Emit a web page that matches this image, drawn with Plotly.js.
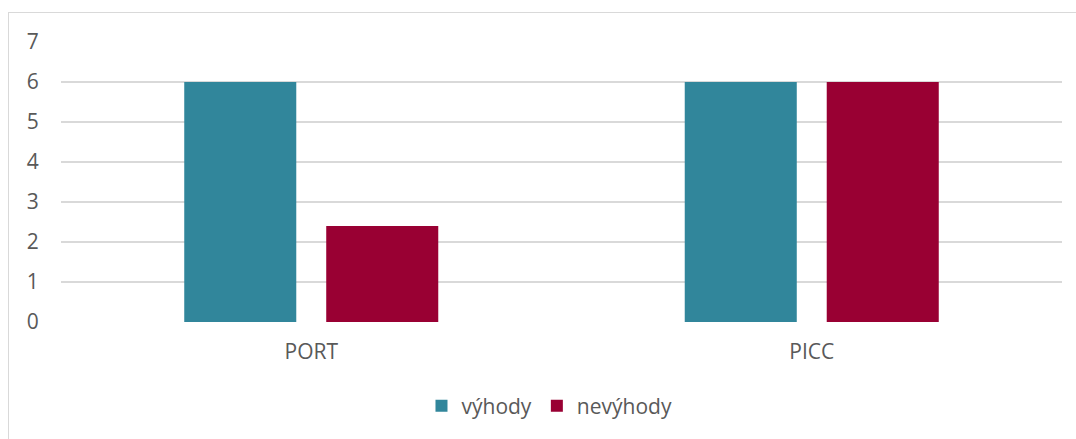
<!DOCTYPE html>
<html>
<head>
<meta charset="utf-8">
<script src="https://cdn.plot.ly/plotly-3.0.1.min.js"></script>
<style>
  html, body { margin: 0; padding: 0; background: #fff; overflow: hidden; }
  #frame { position: absolute; left: 8px; top: 12px; width: 1200px; height: 600px;
           border: 1px solid #d9d9d9; box-sizing: border-box; }
  #chart { position: absolute; left: 0; top: 0; width: 1076px; height: 439px; }
</style>
</head>
<body>
<div id="frame"></div>
<div id="chart"></div>
<script>
// Catheter types compared
const categories = ['PORT', 'PICC'];
// Number of advantages / disadvantages per type
const advantages = [6, 6];
const disadvantages = [2.4, 6];
const yTicks = [0, 1, 2, 3, 4, 5, 6, 7];

const textColor = '#595959';
const font = { family: 'Open Sans, Noto Sans, sans-serif', size: 21, color: textColor };

const traces = [
  { type: 'bar', name: 'výhody', x: categories, y: advantages,
    marker: { color: '#31869b' }, hoverinfo: 'x+y' },
  { type: 'bar', name: 'nevýhody', x: categories, y: disadvantages,
    marker: { color: '#990033' }, hoverinfo: 'x+y' }
];

const layout = {
  width: 1076, height: 439,
  margin: { l: 61, r: 14, t: 42, b: 115 },
  paper_bgcolor: 'rgba(0,0,0,0)', plot_bgcolor: 'rgba(0,0,0,0)',
  font: font,
  barmode: 'group', bargap: 0.4326, bargroupgap: 0.211,
  showlegend: true,
  legend: { orientation: 'h', x: 0.488, xanchor: 'center', y: -0.3, yanchor: 'middle',
            font: font, itemwidth: 30, traceorder: 'normal' },
  xaxis: { type: 'category', showgrid: false, zeroline: false, showline: false,
           ticks: 'outside', ticklen: 11, tickcolor: 'rgba(0,0,0,0)', tickfont: font },
  yaxis: { range: [0, 7], tickvals: yTicks, ticktext: yTicks.map(String),
           showgrid: true, gridcolor: '#d9d9d9', gridwidth: 1.5, zeroline: false, showline: false,
           ticks: 'outside', ticklen: 17, tickcolor: 'rgba(0,0,0,0)', tickfont: font }
};

Plotly.newPlot('chart', traces, layout, { displayModeBar: false, staticPlot: true });
</script>
</body>
</html>
